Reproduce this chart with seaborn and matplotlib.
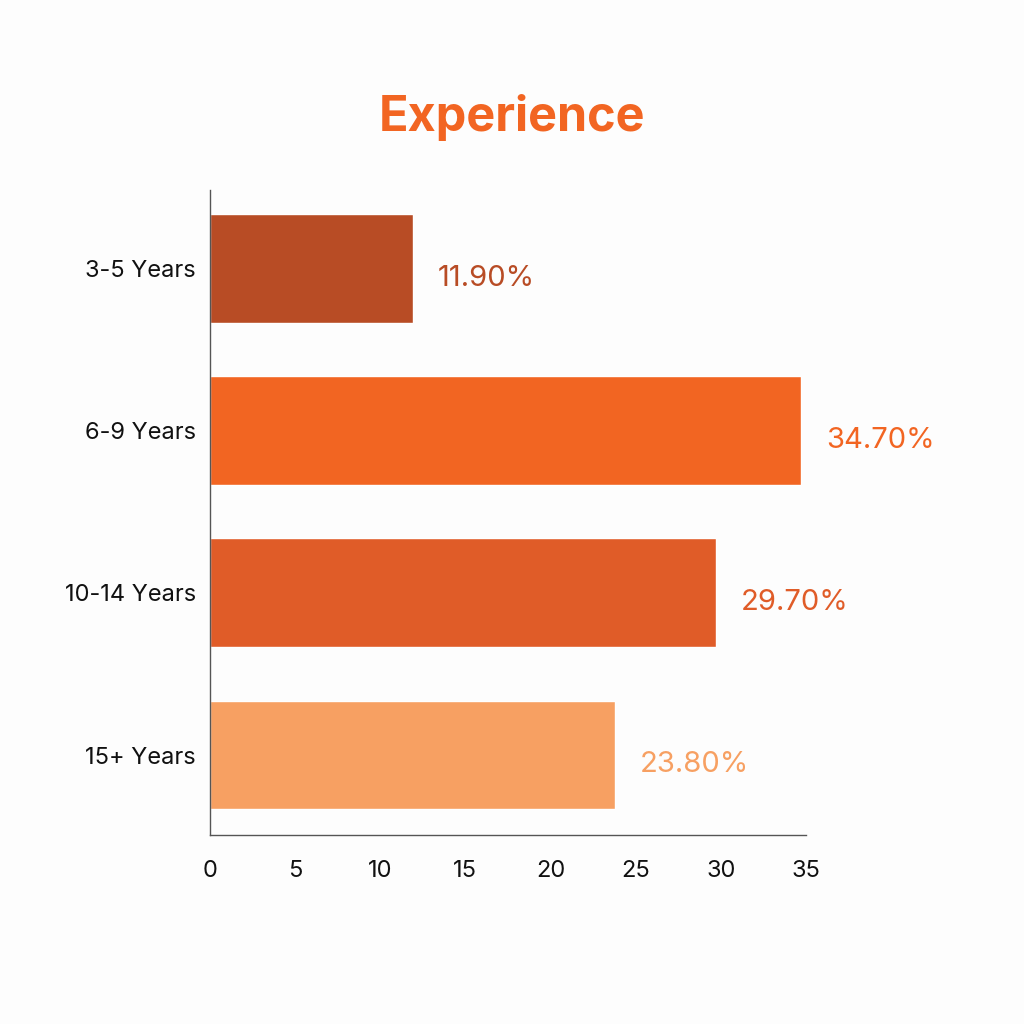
import matplotlib
matplotlib.use("Agg")
import matplotlib.pyplot as plt
import seaborn as sns
import pandas as pd

# data
categories = ["3-5 Years", "6-9 Years", "10-14 Years", "15+ Years"]
values = [11.9, 34.7, 29.7, 23.8]
colors = ["#B84C25", "#F26522", "#E05C28", "#F7A062"]
xticks = [0, 5, 10, 15, 20, 25, 30, 35]

sns.set_theme(style="white")
plt.rcParams["font.family"] = ["Inter", "DejaVu Sans"]

df = pd.DataFrame({"cat": categories, "val": values})

fig = plt.figure(figsize=(10.24, 10.24), dpi=100, facecolor="#FDFDFD")
ax = fig.add_axes([0.205, 0.185, 0.582, 0.629])
ax.set_facecolor("#FDFDFD")

sns.barplot(data=df, x="val", y="cat", hue="cat", palette=colors,
            legend=False, width=0.67, saturation=1, ax=ax)

for i, v in enumerate(values):
    ax.annotate(f"{v:.2f}%", (v, i), xytext=(18, -7), textcoords="offset points",
                va="center", ha="left", fontsize=21, color=colors[i])

ax.set_xlim(0, 35)
ax.set_ylim(3.49, -0.48)
ax.set_xticks(xticks)
ax.set_xticklabels([str(t) for t in xticks], fontsize=17, color="#111111")
ax.tick_params(axis="y", direction="in", length=14, width=1, color="#555555",
               labelsize=17, labelcolor="#111111", pad=10)
ax.tick_params(axis="x", direction="out", length=14, width=1, color="#555555", pad=4)
ax.set_xlabel("")
ax.set_ylabel("")
for s in ["top", "right"]:
    ax.spines[s].set_visible(False)
for s in ["left", "bottom"]:
    ax.spines[s].set_color("#555555")
    ax.spines[s].set_linewidth(1)

fig.text(0.5, 0.885, "Experience", ha="center", va="center", fontsize=35,
         fontweight="bold", color="#F26522")

fig.savefig("out.png", dpi=100, facecolor=fig.get_facecolor())
